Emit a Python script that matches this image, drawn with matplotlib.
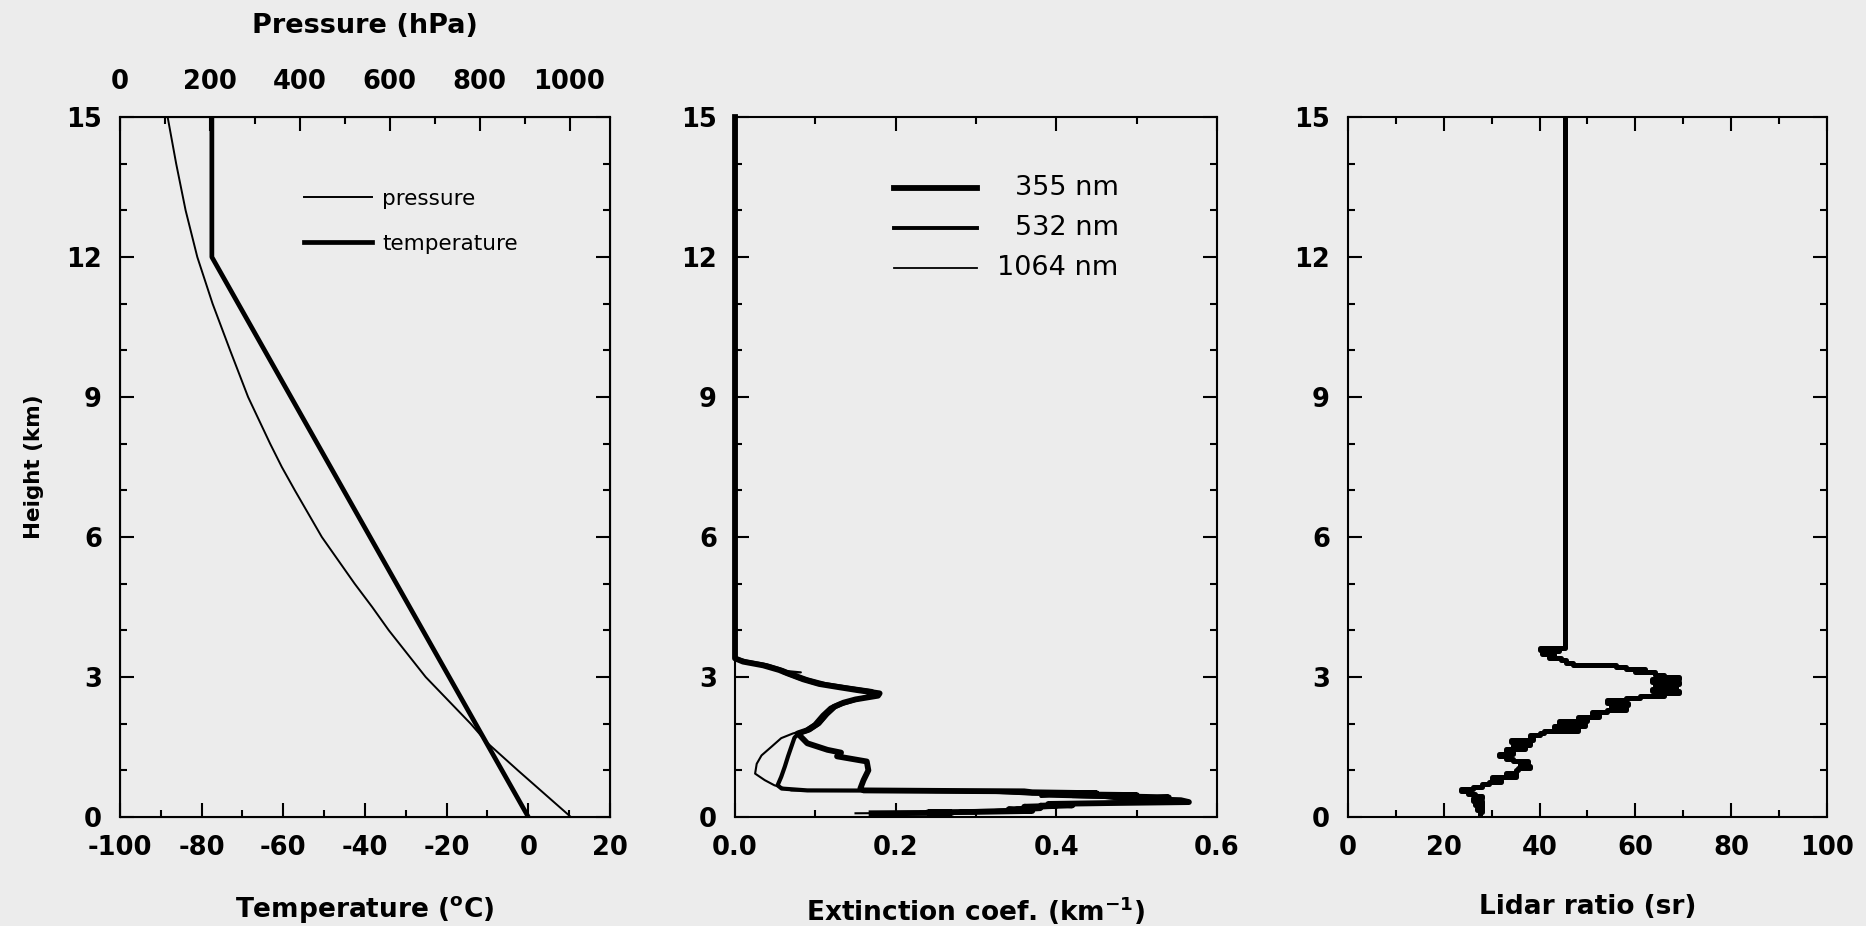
import matplotlib.pyplot as plt
from matplotlib.ticker import MultipleLocator, FormatStrFormatter

plt.rcParams['font.family'] = ['DejaVu Sans']
plt.rcParams['font.weight'] = 'bold'
plt.rcParams['axes.labelweight'] = 'bold'
plt.rcParams['axes.unicode_minus'] = False
plt.rcParams['mathtext.default'] = 'bf'

# --- atmosphere profile (left panel) ---
height_p = [0, 1, 1.58, 2, 3, 4, 4.5, 5, 6, 7, 7.5, 8, 9, 10, 11, 12, 13, 14, 15]
pressure = [1003, 885, 818, 780, 680, 598, 561, 522, 449, 389, 360, 334, 285, 245, 206, 172, 146, 125, 106]
height_t = [0, 12, 15]
temperature = [0, -77.5, -77.5]

# --- extinction coefficient profiles (middle panel) ---
z_355 = [15, 3.4, 3.33, 3.25, 3.15, 3.08, 2.95, 2.85, 2.78, 2.72, 2.65, 2.6, 2.52, 2.45, 2.36, 2.2, 2.0,
         1.86, 1.79, 1.72, 1.58, 1.44, 1.38, 1.30, 1.19, 1.0, 0.79, 0.61, 0.57, 0.56, 0.55, 0.53, 0.51,
         0.49, 0.47, 0.45, 0.42, 0.39, 0.36, 0.32, 0.30, 0.28, 0.25, 0.22, 0.19, 0.16, 0.13, 0.11, 0.10,
         0.09, 0.08]
ext_355 = [0, 0, 0.01, 0.035, 0.055, 0.065, 0.085, 0.105, 0.13, 0.152, 0.18, 0.178, 0.15, 0.135, 0.123,
           0.113, 0.103, 0.09, 0.078, 0.082, 0.09, 0.115, 0.132, 0.127, 0.164, 0.166, 0.160, 0.156, 0.16,
           0.25, 0.36, 0.37, 0.45, 0.40, 0.50, 0.46, 0.54, 0.50, 0.555, 0.565, 0.47, 0.39, 0.42, 0.36,
           0.38, 0.35, 0.37, 0.30, 0.24, 0.27, 0.17]
z_532 = [15, 3.4, 3.33, 3.25, 3.15, 3.08, 2.95, 2.85, 2.78, 2.7, 2.65, 2.58, 2.5, 2.42, 2.36, 2.2, 2.0,
         1.86, 1.79, 1.70, 1.5, 1.30, 1.08, 0.86, 0.68, 0.61, 0.57, 0.565, 0.55, 0.53, 0.50, 0.48, 0.45,
         0.42, 0.38, 0.34, 0.31, 0.29, 0.26, 0.22, 0.18, 0.15, 0.12, 0.10, 0.085]
ext_532 = [0, 0, 0.014, 0.04, 0.059, 0.069, 0.09, 0.112, 0.138, 0.17, 0.175, 0.165, 0.148, 0.133, 0.125,
           0.115, 0.105, 0.093, 0.079, 0.074, 0.07, 0.066, 0.062, 0.0575, 0.053, 0.058, 0.09, 0.20, 0.30,
           0.34, 0.37, 0.44, 0.42, 0.48, 0.52, 0.55, 0.50, 0.44, 0.38, 0.40, 0.34, 0.36, 0.28, 0.30, 0.20]
z_1064 = [15, 3.4, 3.33, 3.25, 3.15, 3.1, 3.08, 2.95, 2.85, 2.78, 2.72, 2.66, 2.6, 2.52, 2.45, 2.36, 2.2,
          2.0, 1.86, 1.79, 1.69, 1.5, 1.32, 1.14, 0.93, 0.79, 0.68, 0.57, 0.56, 0.55, 0.53, 0.50, 0.47,
          0.44, 0.41, 0.37, 0.33, 0.30, 0.27, 0.24, 0.20, 0.16, 0.13, 0.11, 0.09, 0.08]
ext_1064 = [0, 0, 0.006, 0.03, 0.051, 0.082, 0.06, 0.08, 0.099, 0.124, 0.148, 0.17, 0.168, 0.146, 0.13,
            0.118, 0.108, 0.098, 0.086, 0.072, 0.0575, 0.045, 0.033, 0.027, 0.025, 0.037, 0.049, 0.07,
            0.15, 0.24, 0.31, 0.35, 0.41, 0.38, 0.46, 0.48, 0.53, 0.49, 0.42, 0.36, 0.37, 0.33, 0.31,
            0.23, 0.25, 0.15]

# --- lidar ratio profile (right panel) ---
z_lr = [15, 3.63, 3.62, 3.58, 3.55, 3.50, 3.45, 3.40, 3.36, 3.30, 3.26, 3.22, 3.18, 3.14, 3.10, 3.05,
        3.00, 2.95, 2.90, 2.85, 2.80, 2.75, 2.70, 2.65, 2.60, 2.55, 2.50, 2.45, 2.40, 2.35, 2.30, 2.25,
        2.20, 2.15, 2.10, 2.05, 2.00, 1.95, 1.90, 1.85, 1.80, 1.75, 1.70, 1.65, 1.60, 1.55, 1.50, 1.45,
        1.40, 1.35, 1.30, 1.25, 1.20, 1.15, 1.10, 1.05, 1.00, 0.95, 0.90, 0.85, 0.80, 0.75, 0.70, 0.65,
        0.60, 0.55, 0.50, 0.45, 0.40, 0.35, 0.30, 0.25, 0.20, 0.15, 0.10, 0.05]
lidar_ratio = [45.3, 45.3, 44, 40, 44, 40.5, 43, 42, 44.5, 45.5, 47, 56, 58, 62, 60, 64,
               66, 69, 63.5, 69, 64, 68.5, 63.5, 69, 66, 61, 58, 54, 58.5, 55, 58, 54,
               51, 52.5, 48, 50, 44, 49.5, 43, 48, 41, 40, 38, 38.6, 34, 38, 34.5, 37,
               33, 34.5, 31.6, 33, 34.5, 37.5, 36, 38, 35.5, 35, 33, 35, 30, 32, 29.5, 28,
               26, 23.5, 25, 26.5, 28, 26, 28, 26.5, 28, 27, 28, 27.5]

bg = '#ececec'
fig = plt.figure(figsize=(18.66, 9.26), dpi=100)
fig.patch.set_facecolor(bg)

ax1 = fig.add_axes([0.0643, 0.1177, 0.2626, 0.7559])
ax2 = fig.add_axes([0.3939, 0.1177, 0.2583, 0.7559])
ax3 = fig.add_axes([0.7224, 0.1177, 0.2567, 0.7559])


def style_axes(ax, top=True):
    ax.set_facecolor(bg)
    ax.set_ylim(0, 15)
    ax.yaxis.set_major_locator(MultipleLocator(3))
    ax.yaxis.set_minor_locator(MultipleLocator(1))
    ax.tick_params(which='both', direction='in', width=1.5, right=True, top=top,
                   labelsize=18.5, pad=13)
    ax.tick_params(which='major', length=10)
    ax.tick_params(which='minor', length=5)
    for s in ax.spines.values():
        s.set_linewidth(1.5)


# left: temperature (bottom axis) and pressure (top axis)
style_axes(ax1, top=False)
ax1.set_xlim(-100, 20)
ax1.xaxis.set_major_locator(MultipleLocator(20))
ax1.xaxis.set_minor_locator(MultipleLocator(10))
t_line, = ax1.plot(temperature, height_t, color='black', lw=3.4)
ax1.set_xlabel('Temperature ($^{o}$C)', fontsize=19, labelpad=24)
ax1.set_ylabel('Height (km)', fontsize=15.5, labelpad=16)

ax1p = ax1.twiny()
ax1p.set_xlim(0, 1090)
ax1p.xaxis.set_major_locator(MultipleLocator(200))
ax1p.xaxis.set_minor_locator(MultipleLocator(100))
ax1p.tick_params(which='both', direction='in', width=1.5, labelsize=18.5, pad=16)
ax1p.tick_params(which='major', length=10)
ax1p.tick_params(which='minor', length=5)
p_line, = ax1p.plot(pressure, height_p, color='black', lw=1.4)
ax1p.set_xlabel('Pressure (hPa)', fontsize=19.5, labelpad=26)
ax1p.legend([p_line, t_line], ['pressure', 'temperature'], loc='upper left',
            bbox_to_anchor=(0.335, 0.925), frameon=False, handlelength=3.2,
            handletextpad=0.45, labelspacing=1.15, prop={'size': 15.5, 'weight': 'normal'})

# middle: extinction coefficients
style_axes(ax2)
ax2.set_xlim(0, 0.6)
ax2.xaxis.set_major_locator(MultipleLocator(0.2))
ax2.xaxis.set_minor_locator(MultipleLocator(0.1))
ax2.xaxis.set_major_formatter(FormatStrFormatter('%.1f'))
ax2.plot(ext_355, z_355, color='black', lw=4.2, clip_on=False)
ax2.plot(ext_532, z_532, color='black', lw=3.0, clip_on=False)
ax2.plot(ext_1064, z_1064, color='black', lw=1.5, clip_on=False)
ax2.set_xlabel('Extinction coef. (km$^{-1}$)', fontsize=19, labelpad=24)

legend_rows = [('355 nm', 4.2, 0.898), ('532 nm', 2.8, 0.841), ('1064 nm', 1.3, 0.784)]
for label, width, y in legend_rows:
    ax2.plot([0.329, 0.503], [y, y], color='black', lw=width, transform=ax2.transAxes)
    ax2.text(0.796, y, label, transform=ax2.transAxes, ha='right', va='center',
             fontsize=19.5, fontweight='normal')

# right: lidar ratio
style_axes(ax3)
ax3.set_xlim(0, 100)
ax3.xaxis.set_major_locator(MultipleLocator(20))
ax3.xaxis.set_minor_locator(MultipleLocator(10))
ax3.plot(lidar_ratio, z_lr, color='black', lw=3.6, drawstyle='steps-post')
ax3.set_xlabel('Lidar ratio (sr)', fontsize=19, labelpad=24)

fig.savefig('out.png', dpi=100, facecolor=bg)
